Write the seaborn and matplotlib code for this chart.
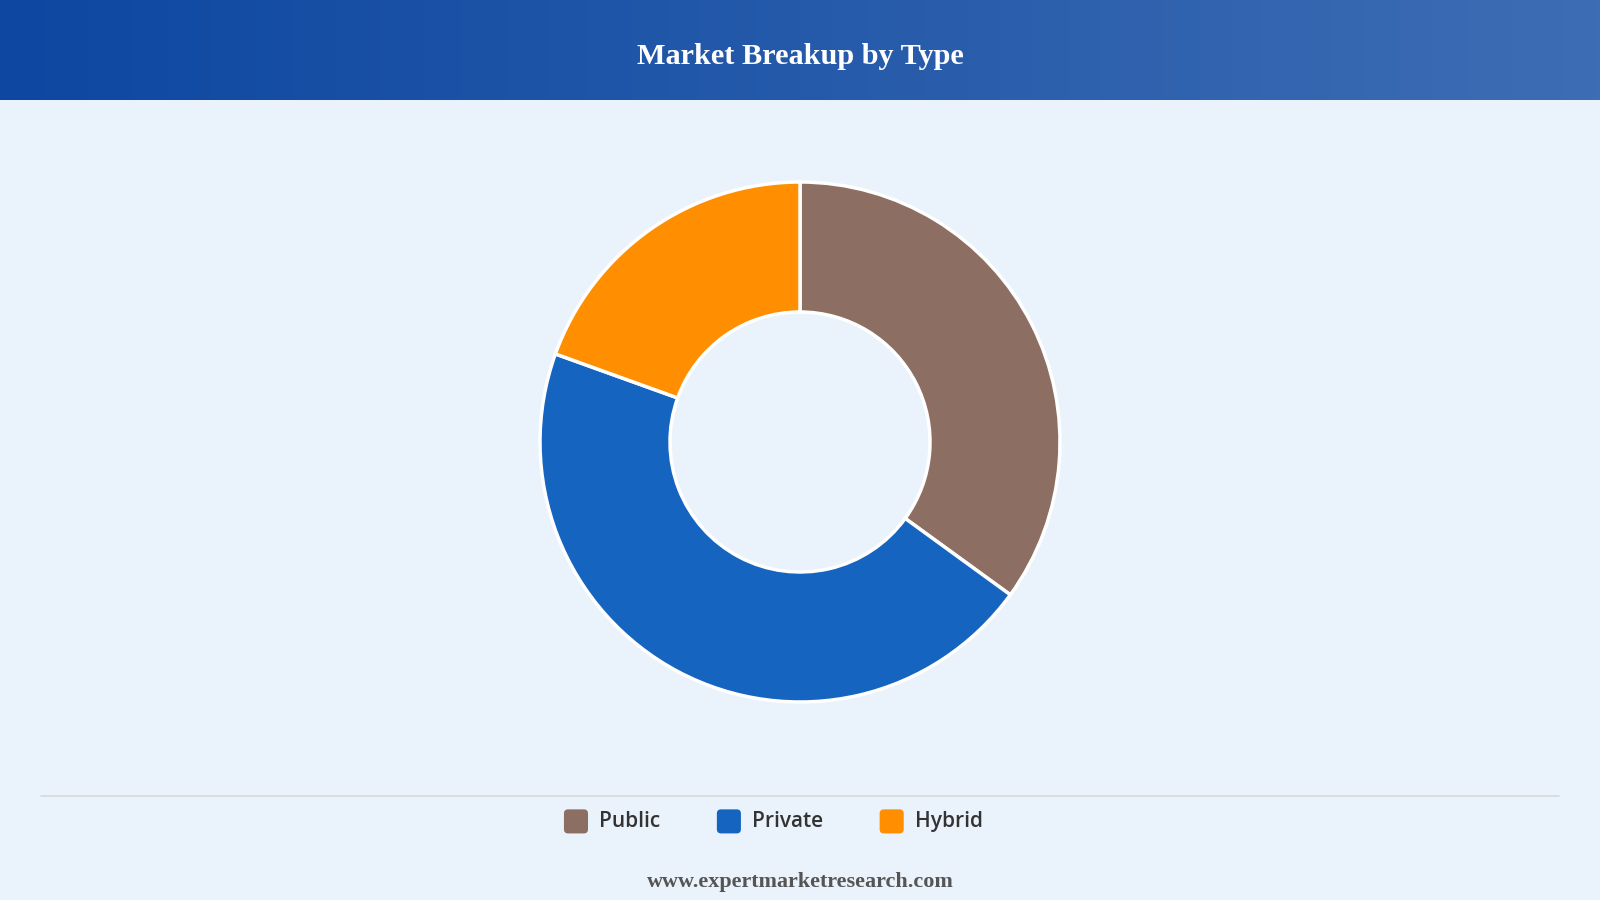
import numpy as np
import matplotlib
matplotlib.use("Agg")
import matplotlib.pyplot as plt
import seaborn as sns
from matplotlib.patches import FancyBboxPatch
from matplotlib.legend_handler import HandlerPatch
from matplotlib.colors import LinearSegmentedColormap

# chart data
categories = ["Public", "Private", "Hybrid"]
shares = [35.0, 45.5, 19.5]
colors = ["#8D6E63", "#1565C0", "#FF8F00"]

title = "Market Breakup by Type"
footer = "www.expertmarketresearch.com"

sns.set_theme(style="white")
plt.rcParams["font.family"] = ["Open Sans", "DejaVu Sans"]

BG = "#EAF2FB"
fig = plt.figure(figsize=(16, 9), dpi=100)
fig.patch.set_facecolor(BG)

# header band with horizontal gradient
head = fig.add_axes([0, 1 - 100 / 900, 1, 100 / 900])
grad = np.linspace(0, 1, 256).reshape(1, -1)
cmap = LinearSegmentedColormap.from_list("hdr", ["#0D47A1", "#3D6DB4"])
head.imshow(grad, aspect="auto", cmap=cmap, extent=[0, 1, 0, 1])
head.set_axis_off()
head.text(0.5, 0.43, title, ha="center", va="center", color="white",
          fontsize=21.8, fontweight="bold", family=["Liberation Serif", "DejaVu Serif"])

# donut
cx, cy, r = 800, 442, 260
ax = fig.add_axes([(cx - r) / 1600, (900 - cy - r) / 900, 2 * r / 1600, 2 * r / 900])
wedges, _ = ax.pie(shares, colors=colors, startangle=90, counterclock=False,
                   wedgeprops=dict(width=0.5, edgecolor="white", linewidth=2.5))
ax.set_xlim(-1.0, 1.0)
ax.set_ylim(-1.0, 1.0)
ax.set_aspect("equal")
ax.set_axis_off()

# separator line above legend
fig.add_artist(plt.Line2D([41 / 1600, 1559 / 1600], [1 - 796 / 900] * 2,
                          color="#D5D9DE", linewidth=1.2))


class RoundHandler(HandlerPatch):
    def create_artists(self, legend, orig_handle, xdescent, ydescent,
                       width, height, fontsize, trans):
        s = min(width, height)
        p = FancyBboxPatch((-xdescent + (width - s) / 2, -ydescent + (height - s) / 2 - 1), s, s,
                           boxstyle="round,pad=0,rounding_size=3",
                           facecolor=orig_handle.get_facecolor(), edgecolor="none",
                           transform=trans)
        return [p]


handles = [plt.Rectangle((0, 0), 1, 1, facecolor=c) for c in colors]
leg = fig.legend(handles, categories, loc="center", bbox_to_anchor=(0.4825, 1 - 820 / 900),
                 ncol=3, frameon=False, handlelength=1.4, handleheight=1.4,
                 handletextpad=0.4, columnspacing=2.6,
                 handler_map={plt.Rectangle: RoundHandler()},
                 prop=dict(family=["Open Sans", "DejaVu Sans"], weight="semibold", size=15))
for t in leg.get_texts():
    t.set_color("#333333")

fig.text(0.5, 1 - 882 / 900, footer, ha="center", va="center", color="#555555",
         fontsize=15.9, fontweight="bold", family=["Liberation Serif", "DejaVu Serif"])

fig.savefig("out.png", dpi=100, facecolor=BG)
